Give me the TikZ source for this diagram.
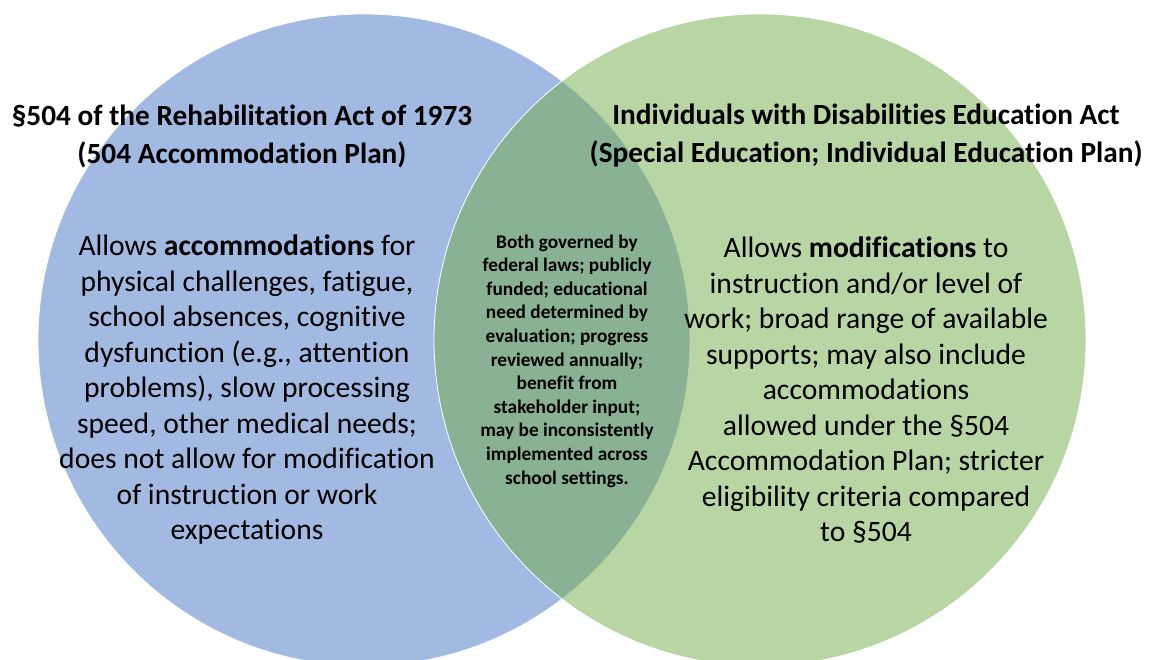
\documentclass[tikz,border=0pt]{standalone}
\usepackage{fontspec}
\setmainfont{Carlito}[Ligatures=NoCommon]
\begin{document}
\begin{tikzpicture}[x=1pt,y=1pt,
  circ/.style={draw=white,line width=0.8pt},
  title/.style={font=\fontsize{29.3}{38}\selectfont\bfseries,align=center,text=black},
  body/.style={font=\fontsize{29.6}{35.5}\selectfont,align=center,text=black},
  mid/.style={font=\fontsize{19.3}{23.6}\selectfont\bfseries,align=center,text=black}]
\definecolor{bluefill}{HTML}{A2B9E1}
\definecolor{greenfill}{HTML}{70AD47}
\useasboundingbox (0,0) rectangle (1151,660);
\path[circ,fill=bluefill] (364,320) circle (326);
\path[circ,fill=greenfill,fill opacity=0.5] (760,320) circle (326);
\node[title] (lt) at (242,524) {§504 of the Rehabilitation Act of 1973\\(504 Accommodation Plan)};
\node[title] (rt) at (866,524) {Individuals with Disabilities Education Act\\(Special Education; Individual Education Plan)};
\node[body] (lb) at (247,270) {Allows \textbf{accommodations} for\\physical challenges, fatigue,\\school absences, cognitive\\dysfunction (e.g., attention\\problems), slow processing\\speed, other medical needs;\\does not allow for modification\\of instruction or work\\expectations};
\node[body] (rb) at (866,270) {Allows \textbf{modifications} to\\instruction and/or level of\\work; broad range of available\\supports; may also include\\accommodations\\allowed under the §504\\Accommodation Plan; stricter\\eligibility criteria compared\\to §504};
\node[mid] (cb) at (567,299) {Both governed by\\federal laws; publicly\\funded; educational\\need determined by\\evaluation; progress\\reviewed annually;\\benefit from\\stakeholder input;\\may be inconsistently\\implemented across\\school settings.};
\end{tikzpicture}
\end{document}
